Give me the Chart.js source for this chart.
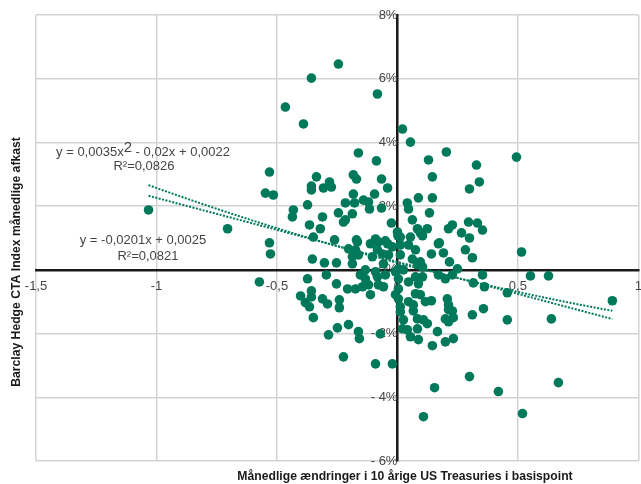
<!DOCTYPE html>
<html>
<head>
<meta charset="utf-8">
<script src="https://cdn.jsdelivr.net/npm/chart.js@4.4.1/dist/chart.umd.min.js"></script>
<style>
  html, body { margin: 0; padding: 0; background: #ffffff; overflow: hidden; }
  #wrap { position: relative; width: 641px; height: 484px; overflow: hidden; }
  #chart { position: absolute; left: 0; top: 0; }
</style>
</head>
<body>
<div id="wrap"><canvas id="chart" width="651" height="484"></canvas></div>
<script>
// Monthly change in 10y US Treasury yield (x) vs Barclay Hedge CTA Index monthly return in % (y)
const changeTreasury = [
  -1.033, -0.705, -0.357, -0.465, -0.390, -0.245, -0.083, -0.531, -0.548, -0.515,
  -0.336, -0.357, -0.357, -0.307, -0.282, -0.274, -0.373, -0.432, -0.436, -0.311,
  -0.365, -0.320, -0.349, -0.531, -0.527, -0.353, -0.303, -0.295, -0.573, -0.373,
  -0.357, -0.357, -0.402, -0.382, -0.365, -0.349, -0.311, -0.290, -0.286, -0.249,
   0.021,  0.054, -0.162, -0.087, -0.183, -0.170, -0.066, -0.041, -0.183, -0.095,
  -0.216, -0.178, -0.141, -0.120, -0.116, -0.066,  0.041,  0.046,  0.087, -0.245,
  -0.187, -0.216, -0.224, -0.025,  0.062,  0.000,  0.002,  0.054,  0.083,  0.095,
  -0.261, -0.170, -0.091, -0.050,  0.203,  0.129,  0.328,  0.494,  0.145,  0.340,
   0.299,  0.145,  0.133,  0.124,  0.104,  0.228,  0.212,  0.295,  0.332,  0.353,
   0.266,  0.299,  0.174,  0.141,  0.191,  0.282,  0.311,  0.216,  0.515, -0.166,
  -0.112, -0.079, -0.041, -0.203, -0.174, -0.083, -0.062, -0.021, -0.187, -0.162,
  -0.104, -0.037, -0.187, -0.058, -0.133, -0.091, -0.008, -0.133, -0.083, -0.050,
   0.004, -0.207, -0.174, -0.145, -0.120, -0.079, -0.058, -0.112, -0.008,  0.004,
   0.012, -0.203, -0.162, -0.158, -0.071, -0.253, -0.253, -0.241, -0.241, -0.224,
  -0.091, -0.021,  0.012,  0.012,  0.046,  0.170,  0.075,  0.012,  0.062,  0.095,
   0.004,  0.025,  0.083,  0.104,  0.170,  0.199,  0.075,  0.087,  0.046,  0.004,
   0.075,  0.095,  0.046,  0.207,  0.012,  0.066,  0.212,  0.212,  0.116,  0.025,
   0.083,  0.108,  0.124,  0.199,  0.212,  0.021,  0.041,  0.083,  0.166,  0.054,
   0.087,  0.199,  0.249,  0.228,  0.353,  0.315,  0.361,  0.456,  0.552,  0.627,
   0.104,  0.141,  0.228,  0.232,  0.311,  0.357,  0.456,  0.639,  0.892,  0.145,
   0.232,  0.299,  0.154,  0.419,  0.668,  0.108,  0.519, -0.154,  0.066
];
const ctaReturn = [
   1.88,  1.29,  6.02,  5.11,  4.58,  6.46,  5.52,  3.07,  2.41,  2.35,
   2.92,  2.63,  2.51,  2.57,  2.76,  2.60,  2.04,  1.88,  1.66,  1.66,
   1.41,  1.29,  1.03,  0.85,  0.50,  0.34,  0.22, -0.16, -0.38, -0.28,
  -0.66, -0.85, -0.82, -1.03, -1.16, -1.50, -0.91, -1.07, -2.04, -1.82,
   4.42,  4.01,  3.67,  3.42,  2.98,  2.85,  2.85,  2.57,  2.38,  2.38,
   2.10,  2.10,  2.19,  2.13,  1.91,  1.94,  2.10,  1.91,  2.26,  1.79,
   1.76,  1.57,  1.50,  1.47,  1.57,  1.19,  1.07,  1.03,  1.29,  1.16,
   0.94,  0.94,  0.97,  0.91,  3.70,  3.45,  3.29,  3.54,  2.92,  2.76,
   2.54,  2.26,  1.79,  1.29,  1.07,  1.41,  1.29,  1.50,  1.47,  1.25,
   1.16,  1.00,  0.85,  0.50,  0.53,  0.63,  0.38,  0.25,  0.56,  0.88,
   0.82,  0.88,  0.82,  0.66,  0.63,  0.63,  0.50,  0.72,  0.41,  0.47,
   0.41,  0.47,  0.19,  0.19,  0.00, -0.06, -0.06, -0.28, -0.22, -0.16,
  -0.28, -0.60, -0.60, -0.53, -0.47, -0.47, -0.53, -0.78, -0.78, -0.91,
  -1.16, -1.72, -1.94, -2.16, -2.01,  0.22, -0.44, -0.94, -1.19, -2.73,
  -2.95, -2.95,  1.03,  0.78,  0.78,  0.82,  0.63,  0.47,  0.34,  0.25,
   0.03,  0.00,  0.16,  0.09, -0.16, -0.28, -0.22, -0.44, -0.38, -0.60,
  -0.75, -0.78, -1.00, -0.91, -1.32, -1.10, -1.10, -1.25, -1.00, -1.57,
  -1.54, -1.57, -1.69, -1.54, -1.63, -1.85, -1.88, -1.85, -1.94, -2.10,
  -2.19, -2.26,  0.03, -0.16, -0.16, -0.41, -0.53, -0.72, -0.19, -0.19,
  -0.22, -0.97, -1.29, -1.50, -1.41, -1.22, -1.57, -1.54, -0.97, -2.38,
  -2.16, -3.35, -3.70, -3.82, -3.54, -4.61, -4.51, -0.16, -1.29
];

// Fitted trend coefficients (returns as fractions), highest power first
const polyCoef = [0.0035, -0.02, 0.0022];
const linearCoef = [-0.0201, 0.0025];
const polyLabel = ['y = 0,0035x', '2', ' - 0,02x + 0,0022', 'R²=0,0826'];
const linearLabel = ['y = -0,0201x + 0,0025', 'R²=0,0821'];

const xTickValues = [-1.5, -1, -0.5, 0, 0.5, 1];
const yTickValues = [-6, -4, -2, 0, 2, 4, 6, 8];

const xTitle = 'Månedlige ændringer i 10 årige US Treasuries i basispoint';
const yTitle = 'Barclay Hedge CTA Index månedlige afkast';

const GREEN = '#00795b';
const TEXT = '#454545';
const FONT = "'Liberation Sans', Arial, sans-serif";

const points = changeTreasury.map((x, i) => ({ x: x, y: ctaReturn[i] }));

// Trend curves evaluated over the span of the data, in percent
function evalPoly(coef, x) {
  return coef.reduce((acc, c) => acc * x + c, 0) * 100;
}
const xMin = Math.min(...changeTreasury);
const xMax = Math.max(...changeTreasury);
function trendPoints(coef) {
  const out = [];
  const steps = 60;
  for (let i = 0; i <= steps; i++) {
    const x = xMin + (xMax - xMin) * i / steps;
    out.push({ x: x, y: evalPoly(coef, x) });
  }
  return out;
}

const decimalComma = v => String(v).replace('.', ',');
const percentLabel = v => (v < 0 ? '- ' + Math.abs(v) : String(v)) + '%';

const annotationPlugin = {
  id: 'annotations',
  afterDraw(chart) {
    const ctx = chart.ctx;
    ctx.save();
    ctx.fillStyle = TEXT;
    ctx.textBaseline = 'middle';

    // polynomial fit equation with superscript
    ctx.font = '13px ' + FONT;
    const a = ctx.measureText(polyLabel[0]).width;
    ctx.font = '15px ' + FONT;
    const b = ctx.measureText(polyLabel[1]).width;
    ctx.font = '13px ' + FONT;
    const c = ctx.measureText(polyLabel[2]).width;
    let x0 = 143 - (a + b + c) / 2;
    ctx.textAlign = 'left';
    ctx.fillText(polyLabel[0], x0, 152);
    ctx.font = '15px ' + FONT;
    ctx.fillText(polyLabel[1], x0 + a, 148);
    ctx.font = '13px ' + FONT;
    ctx.fillText(polyLabel[2], x0 + a + b, 152);
    ctx.textAlign = 'center';
    ctx.fillText(polyLabel[3], 144, 166);

    // linear fit equation
    ctx.fillText(linearLabel[0], 143, 240);
    ctx.fillText(linearLabel[1], 148, 256);

    // axis titles
    ctx.fillStyle = '#1a1a1a';
    ctx.font = 'bold 12.2px ' + FONT;
    ctx.fillText(xTitle, 405, 477);
    ctx.translate(17, 262);
    ctx.rotate(-Math.PI / 2);
    ctx.fillText(yTitle, 0, 0);
    ctx.restore();
  }
};

new Chart(document.getElementById('chart'), {
  type: 'scatter',
  data: {
    datasets: [
      {
        type: 'line',
        data: trendPoints(polyCoef),
        borderColor: GREEN,
        borderWidth: 2,
        borderDash: [2, 1.5],
        pointRadius: 0,
        fill: false,
        tension: 0,
        order: 0
      },
      {
        type: 'line',
        data: trendPoints(linearCoef),
        borderColor: GREEN,
        borderWidth: 2,
        borderDash: [2, 1.5],
        pointRadius: 0,
        fill: false,
        tension: 0,
        order: 0
      },
      {
        data: points,
        backgroundColor: GREEN,
        borderWidth: 0,
        pointRadius: 4.8,
        order: 1
      }
    ]
  },
  options: {
    responsive: false,
    animation: false,
    layout: { padding: { left: 36, top: 15, right: 3, bottom: 23 } },
    plugins: { legend: { display: false }, tooltip: { enabled: false } },
    scales: {
      x: {
        type: 'linear',
        min: -1.5,
        max: 1,
        position: { y: 0 },
        afterBuildTicks: axis => { axis.ticks = xTickValues.map(v => ({ value: v })); },
        grid: { color: '#d3d3d3', lineWidth: 1.5, drawTicks: false },
        border: { color: '#1a1a1a', width: 2.5 },
        ticks: {
          color: TEXT,
          font: { family: FONT, size: 13 },
          padding: 9,
          maxRotation: 0,
          autoSkip: false,
          callback: v => decimalComma(v)
        }
      },
      y: {
        type: 'linear',
        min: -6,
        max: 8,
        position: { x: 0 },
        afterBuildTicks: axis => { axis.ticks = yTickValues.map(v => ({ value: v })); },
        grid: { color: '#d3d3d3', lineWidth: 1.5, drawTicks: false },
        border: { color: '#1a1a1a', width: 2.5 },
        ticks: {
          color: TEXT,
          font: { family: FONT, size: 13 },
          padding: 5,
          autoSkip: false,
          callback: v => percentLabel(v)
        }
      }
    }
  },
  plugins: [annotationPlugin]
});
</script>
</body>
</html>
